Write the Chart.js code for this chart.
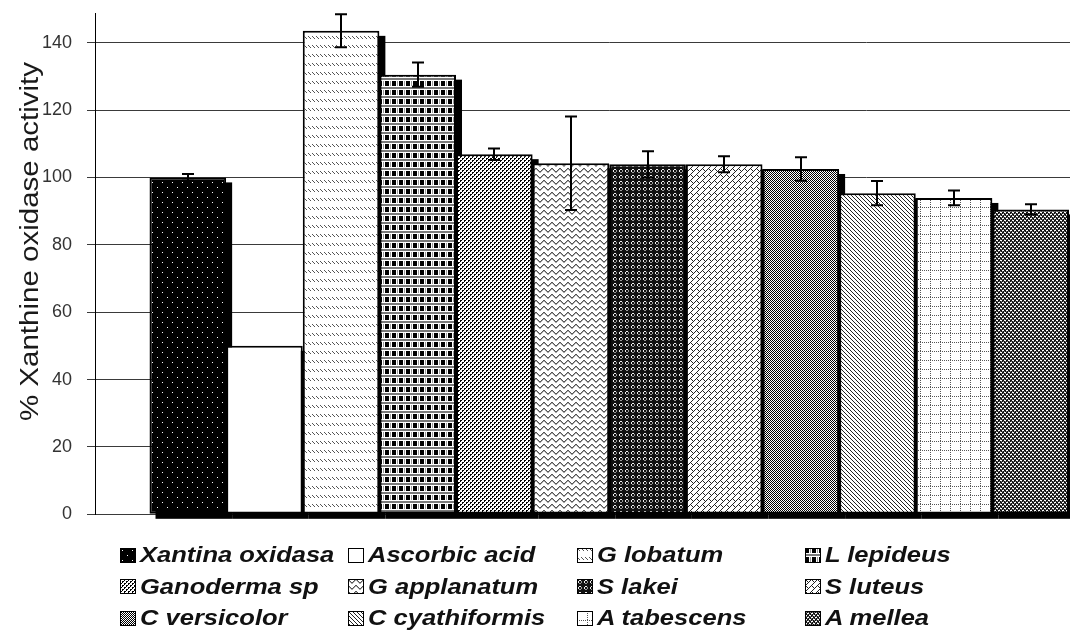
<!DOCTYPE html>
<html>
<head>
<meta charset="utf-8">
<script src="https://cdn.jsdelivr.net/npm/chart.js@4.4.1/dist/chart.umd.min.js"></script>
<style>
  html, body { margin: 0; padding: 0; background: #fff; overflow: hidden; }
  #wrap { position: relative; width: 1130px; height: 632px; }
  #chart { position: absolute; left: 0; top: 0; }
  .item { position: absolute; height: 22px; white-space: nowrap; }
  .item canvas { position: absolute; left: 0; top: 3.6px; }
  .item span {
    position: absolute; left: 20px; top: 0;
    font: italic bold 22px "Liberation Sans", Arial, sans-serif;
    line-height: 22px; color: #111;
    transform: scaleX(1.16); transform-origin: left center;
  }
</style>
</head>
<body>
<div id="wrap">
  <canvas id="chart" width="1130" height="632"></canvas>
  <div id="legend"></div>
</div>
<script>
// series (one bar each), values and error bars
const seriesNames = ['Xantina oxidasa', 'Ascorbic acid', 'G lobatum', 'L lepideus',
                     'Ganoderma sp', 'G applanatum', 'S lakei', 'S luteus',
                     'C versicolor', 'C cyathiformis', 'A tabescens', 'A mellea'];
const activity = [100, 50, 143.5, 130.5, 106.9, 104.2, 103.9, 103.9, 102.5, 95.3, 93.9, 90.5];
const errors   = [1, 0, 4.9, 3.6, 1.7, 13.9, 3.9, 2.4, 3.5, 3.6, 2.2, 1.5];
const yTicks = [0, 20, 40, 60, 80, 100, 120, 140];
const yTitle = '% Xanthine oxidase activity';

const FONT = '"Liberation Sans", Arial, sans-serif';

// small bitmap tiles, like the old Excel fill patterns
function makeTile(w, h, bg, draw) {
  const c = document.createElement('canvas');
  c.width = w; c.height = h;
  const g = c.getContext('2d');
  g.fillStyle = bg;
  g.fillRect(0, 0, w, h);
  if (draw) draw(g);
  return c;
}
function px(g, color, pts) {
  g.fillStyle = color;
  pts.forEach(p => g.fillRect(p[0], p[1], 1, 1));
}

const tiles = [
  // Xantina oxidasa: black, sparse white dots
  makeTile(10, 10, '#000', g => px(g, '#fff', [[2, 2], [7, 7]])),
  // Ascorbic acid: plain white
  makeTile(4, 4, '#fff'),
  // G lobatum: rows of short diagonal dashes
  makeTile(4, 9, '#fff', g => px(g, '#555', [[0, 0], [1, 1], [2, 2]])),
  // L lepideus: black blocks with grey bands
  makeTile(7, 9, '#fff', g => {
    g.fillStyle = '#000'; g.fillRect(0, 0, 4, 5);
    g.fillStyle = '#7a7a7a'; g.fillRect(0, 6, 7, 2);
    g.fillStyle = '#9a9a9a'; g.fillRect(5, 0, 1, 5);
  }),
  // Ganoderma sp: dense small dots
  makeTile(4, 4, '#fff', g => px(g, '#000', [[0, 0], [1, 0], [0, 1], [2, 2], [3, 2], [2, 3]])),
  // G applanatum: zigzag waves
  makeTile(8, 6, '#fff', g => {
    const zig = [0, 1, 2, 3, 3, 2, 1, 0];
    zig.forEach((y, x) => { px(g, '#555', [[x, y]]); px(g, '#aaa', [[x, y + 1]]); });
  }),
  // S lakei: dark with bead rings
  makeTile(6, 6, '#111', g => {
    px(g, '#eee', [[2, 1], [3, 1], [1, 2], [1, 3]]);
    px(g, '#999', [[4, 2], [4, 3], [2, 4], [3, 4]]);
  }),
  // S luteus: diagonal bricks
  makeTile(12, 12, '#fff', g => {
    const pts = [];
    for (let x = 0; x < 12; x++) {
      for (let y = 0; y < 12; y++) {
        const u = x + y, v = ((x - y) % 12 + 12) % 12;
        const band = Math.floor(u / 6);
        if (u % 6 === 0 || (v - (band % 2) * 6 + 12) % 12 === 0) pts.push([x, y]);
      }
    }
    px(g, '#222', pts);
  }),
  // C versicolor: 50% grey
  makeTile(2, 2, '#fff', g => px(g, '#000', [[0, 0], [1, 1]])),
  // C cyathiformis: narrow downward diagonals
  makeTile(4, 4, '#fff', g => px(g, '#222', [[0, 0], [1, 1], [2, 2], [3, 3]])),
  // A tabescens: dotted grid
  makeTile(10, 9, '#fff', g => {
    const pts = [];
    for (let x = 0; x < 10; x += 2) pts.push([x, 0]);
    for (let y = 0; y < 9; y += 2) pts.push([0, y]);
    px(g, '#555', pts);
  }),
  // A mellea: dark with white dashes
  makeTile(4, 4, '#111', g => {
    px(g, '#fff', [[0, 0], [1, 0], [2, 2], [3, 2]]);
    px(g, '#777', [[1, 1], [3, 1], [0, 3], [2, 3]]);
  })
];

const ctx0 = document.getElementById('chart').getContext('2d');
const patterns = tiles.map(t => ctx0.createPattern(t, 'repeat'));

// black drop shadow behind every bar (drawn first, so later bars cover it)
const shadowPlugin = {
  id: 'barShadow',
  beforeDatasetsDraw(chart) {
    const ctx = chart.ctx;
    ctx.save();
    ctx.fillStyle = '#000';
    chart.data.datasets.forEach((ds, i) => {
      const el = chart.getDatasetMeta(i).data[0];
      const p = el.getProps(['x', 'y', 'base', 'width'], true);
      ctx.fillRect(p.x - p.width / 2 + 6, p.y + 5, p.width, p.base - p.y);
    });
    ctx.restore();
  }
};

const errorBarPlugin = {
  id: 'errorBars',
  afterDatasetsDraw(chart) {
    const ctx = chart.ctx;
    const yScale = chart.scales.y;
    ctx.save();
    ctx.strokeStyle = '#000';
    ctx.lineWidth = 2;
    chart.data.datasets.forEach((ds, i) => {
      const e = errors[i];
      if (!e) return;
      const el = chart.getDatasetMeta(i).data[0];
      const x = Math.round(el.x);
      const top = yScale.getPixelForValue(activity[i] + e);
      const bot = yScale.getPixelForValue(activity[i] - e);
      ctx.beginPath();
      ctx.moveTo(x, top); ctx.lineTo(x, bot);
      ctx.moveTo(x - 6, top); ctx.lineTo(x + 6, top);
      ctx.moveTo(x - 6, bot); ctx.lineTo(x + 6, bot);
      ctx.stroke();
    });
    ctx.restore();
  }
};

// y title sits above the axis middle in the original, so draw it by hand
const yTitlePlugin = {
  id: 'yTitle',
  afterDraw(chart) {
    const ctx = chart.ctx;
    ctx.save();
    ctx.translate(37.5, 241.5);
    ctx.rotate(-Math.PI / 2);
    ctx.scale(1.18, 1);
    ctx.font = '25px ' + FONT;
    ctx.fillStyle = '#1a1a1a';
    ctx.textAlign = 'center';
    ctx.textBaseline = 'alphabetic';
    ctx.fillText(yTitle, 0, 0);
    ctx.restore();
  }
};

new Chart(ctx0, {
  type: 'bar',
  data: {
    labels: [''],
    datasets: seriesNames.map((name, i) => ({
      label: name,
      data: [activity[i]],
      backgroundColor: patterns[i],
      borderColor: '#000',
      borderWidth: 2,
      borderSkipped: false
    }))
  },
  options: {
    responsive: false,
    animation: false,
    devicePixelRatio: 1,
    layout: { padding: { top: 13, bottom: 632 - 514.3, left: 0, right: 6.5 } },
    datasets: { bar: { categoryPercentage: 0.894, barPercentage: 1 } },
    plugins: { legend: { display: false }, tooltip: { enabled: false } },
    scales: {
      x: { display: false },
      y: {
        min: 0,
        max: 148.8,
        afterBuildTicks: s => { s.ticks = yTicks.map(v => ({ value: v })); },
        afterFit: s => { s.width = 95; s.paddingTop = 0; s.paddingBottom = 0; },
        ticks: { font: { family: FONT, size: 18 }, color: '#333', padding: 15 },
        grid: { color: '#3a3a3a', tickLength: 8, tickColor: '#3a3a3a' },
        border: { color: '#000', width: 1 }
      }
    }
  },
  plugins: [shadowPlugin, errorBarPlugin, yTitlePlugin]
});

// legend: 4 columns x 3 rows, like the original
const legend = document.getElementById('legend');
seriesNames.forEach((name, i) => {
  const col = i % 4, row = Math.floor(i / 4);
  const item = document.createElement('div');
  item.className = 'item';
  item.style.left = (120 + col * 228.3) + 'px';
  item.style.top = (544.4 + row * 31.5) + 'px';
  const sw = document.createElement('canvas');
  sw.width = 16; sw.height = 15;
  const g = sw.getContext('2d');
  g.fillStyle = g.createPattern(tiles[i], 'repeat');
  g.fillRect(0, 0, 16, 15);
  g.strokeStyle = '#000';
  g.lineWidth = 1;
  g.strokeRect(0.5, 0.5, 15, 14);
  const label = document.createElement('span');
  label.textContent = name;
  item.appendChild(sw);
  item.appendChild(label);
  legend.appendChild(item);
});
</script>
</body>
</html>
